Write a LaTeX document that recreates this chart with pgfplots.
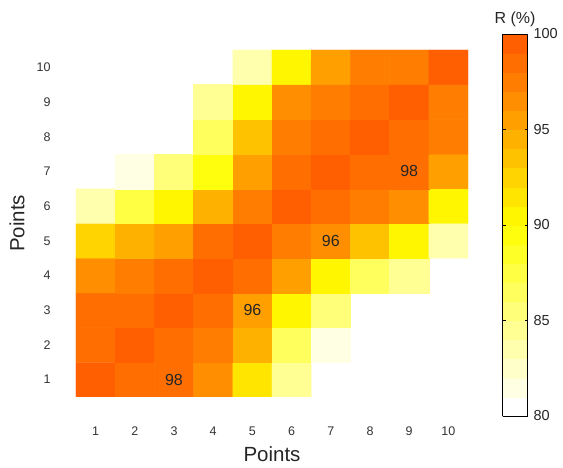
\documentclass[border=0pt]{standalone}
\usepackage{pgfplots}
\pgfplotsset{compat=1.18}
\usepackage{pgfplotstable}
\usepackage{fontspec}
\setmainfont{Liberation Sans}

\pgfplotstableread{
x y C
1 1 99.5
2 1 98.6
3 1 98.2
4 1 96.6
5 1 91.6
6 1 84.5
7 1 nan
8 1 nan
9 1 nan
10 1 nan
1 2 98.5
2 2 99.5
3 2 98.5
4 2 97.5
5 2 94.5
6 2 86.5
7 2 81.5
8 2 nan
9 2 nan
10 2 nan
1 3 98.5
2 3 98.6
3 3 99.4
4 3 98.6
5 3 95.5
6 3 90.5
7 3 85.5
8 3 nan
9 3 nan
10 3 nan
1 4 96.5
2 4 97.2
3 4 98.5
4 4 99.5
5 4 98.6
6 4 95.0
7 4 90.3
8 4 86.5
9 4 84.5
10 4 nan
1 5 92.0
2 5 94.5
3 5 95.4
4 5 98.6
5 5 99.5
6 5 97.8
7 5 96.2
8 5 93.0
9 5 90.6
10 5 83.7
1 6 83.8
2 6 87.0
3 6 90.2
4 6 94.2
5 6 97.8
6 6 99.6
7 6 98.5
8 6 97.8
9 6 96.4
10 6 90.3
1 7 nan
2 7 81.3
3 7 85.2
4 7 89.5
5 7 95.8
6 7 98.6
7 7 99.3
8 7 98.7
9 7 98.1
10 7 95.6
1 8 nan
2 8 nan
3 8 nan
4 8 86.5
5 8 93.3
6 8 97.4
7 8 98.3
8 8 99.4
9 8 98.5
10 8 97.5
1 9 nan
2 9 nan
3 9 nan
4 9 84.2
5 9 90.3
6 9 96.8
7 9 97.5
8 9 98.3
9 9 99.3
10 9 97.6
1 10 nan
2 10 nan
3 10 nan
4 10 nan
5 10 83.4
6 10 90.4
7 10 95.8
8 10 97.4
9 10 97.3
10 10 99.4
}\heatdata

\begin{document}
\begin{tikzpicture}
\useasboundingbox (-76pt,-71pt) rectangle (487pt,397pt);
\begin{axis}[
  at={(0pt,0pt)}, anchor=south west,
  scale only axis, width=392pt, height=347pt,
  xmin=0.5, xmax=10.5, ymin=0.5, ymax=10.5,
  xtick={1,...,10}, ytick={1,...,10},
  axis line style={draw=none},
  major tick length=0pt,
  /pgf/number format/assume math mode=true,
  tick label style={font=\fontsize{12.5}{14}\selectfont, text=black!80},
  xticklabel style={yshift=-26pt},
  yticklabel style={xshift=-22pt},
  xlabel={Points}, ylabel={Points},
  every axis x label/.style={at={(axis description cs:0.5,0)}, anchor=center, yshift=-57pt, font=\fontsize{20.5}{24}\selectfont, text=black!85},
  every axis y label/.style={at={(axis description cs:-0.1505,0.5)}, rotate=90, anchor=center, font=\fontsize{20.5}{24}\selectfont, text=black!85},
  colormap={heat}{rgb255=(255,255,255) rgb255=(255,255,228) rgb255=(255,255,201) rgb255=(255,255,174) rgb255=(255,255,148) rgb255=(255,255,121) rgb255=(255,255,94) rgb255=(255,255,67) rgb255=(255,255,40) rgb255=(255,255,13) rgb255=(255,246,0) rgb255=(255,229,0) rgb255=(255,212,0) rgb255=(255,194,0) rgb255=(255,177,0) rgb255=(255,159,0) rgb255=(255,142,0) rgb255=(255,125,0) rgb255=(255,110,0) rgb255=(255,95,0)},
  colormap access=piecewise constant,
  point meta min=80, point meta max=100,
  unbounded coords=jump,
  colorbar sampled,
  colorbar style={
    scale only axis, width=25pt, height=382pt,
    at={(parent axis.south east)}, anchor=south west,
    xshift=26pt, yshift=-19pt,
    samples=21,
    ytick={80,85,90,95,100},
    /pgf/number format/assume math mode=true,
    yticklabel style={font=\fontsize{14.5}{17}\selectfont, text=black!85, xshift=2.5pt},
    major tick length=3pt, tick align=inside,
    tick style={black, line width=0.5pt},
    axis line style={draw=black, line width=0.6pt},
    title={R (\%)},
    title style={font=\fontsize{16}{18}\selectfont, text=black!85, yshift=-2pt},
  },
]
\addplot[matrix plot*, mesh/cols=10, point meta=explicit] table[x=x, y=y, meta=C] {\heatdata};
\addplot[only marks, mark=none, nodes near coords, point meta=explicit symbolic,
  every node near coord/.style={anchor=center, font=\fontsize{16}{18}\selectfont, text=black!85}]
  coordinates {(3,1)[98] (5,3)[96] (7,5)[96] (9,7)[98]};
\end{axis}
\end{tikzpicture}
\end{document}
